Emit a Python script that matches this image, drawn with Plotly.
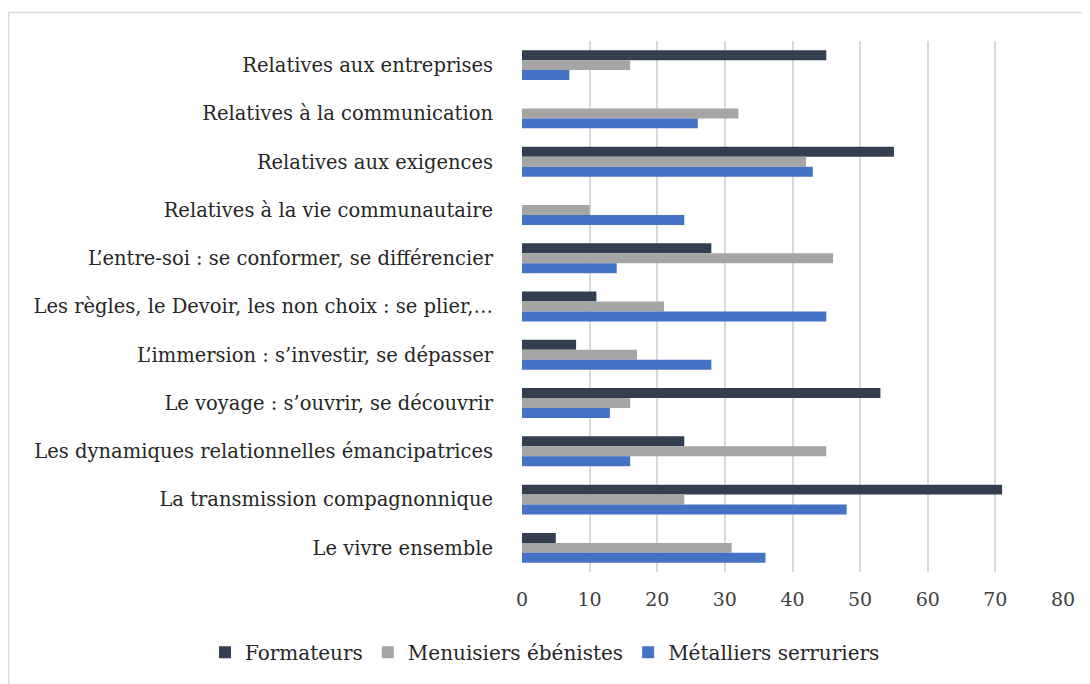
import plotly.graph_objects as go

categories = [
    "Relatives aux entreprises",
    "Relatives à la communication",
    "Relatives aux exigences",
    "Relatives à la vie communautaire",
    "L’entre-soi : se conformer, se différencier",
    "Les règles, le Devoir, les non choix : se plier,…",
    "L’immersion : s’investir, se dépasser",
    "Le voyage : s’ouvrir, se découvrir",
    "Les dynamiques relationnelles émancipatrices",
    "La transmission compagnonnique",
    "Le vivre ensemble",
]
formateurs = [45, 0, 55, 0, 28, 11, 8, 53, 24, 71, 5]
menuisiers = [16, 32, 42, 10, 46, 21, 17, 16, 45, 24, 31]
metalliers = [7, 26, 43, 24, 14, 45, 28, 13, 16, 48, 36]
x_ticks = [0, 10, 20, 30, 40, 50, 60, 70, 80]

series = [
    ("Formateurs", formateurs, "#333F50"),
    ("Menuisiers ébénistes", menuisiers, "#A5A5A5"),
    ("Métalliers serruriers", metalliers, "#4472C4"),
]

fig = go.Figure()
for name, vals, color in series:
    fig.add_trace(go.Bar(
        y=categories, x=vals, name=name, orientation="h",
        marker=dict(color=color, line=dict(width=0)),
    ))

font_family = "DejaVu Serif"
fig.update_layout(
    width=1090, height=684,
    margin=dict(l=514, r=35, t=33, b=120, autoexpand=False),
    paper_bgcolor="white", plot_bgcolor="white",
    barmode="group", bargap=0.38, bargroupgap=0,
    font=dict(family=font_family, size=19, color="#262626"),
    xaxis=dict(
        range=[0, 80], tickvals=x_ticks, showgrid=True,
        gridcolor="#D9D9D9", gridwidth=2, zeroline=False,
        showline=False, ticks="", ticklabelstandoff=14,
        tickfont=dict(size=19, color="#404040"),
        fixedrange=True,
    ),
    yaxis=dict(
        autorange="reversed", showgrid=False, zeroline=False,
        showline=False, ticks="", ticklen=0, ticklabelstandoff=28,
        tickfont=dict(size=19.5, color="#262626"),
    ),
    legend=dict(
        orientation="h", x=-0.586, xanchor="left", y=-0.151, yanchor="middle",
        font=dict(size=20, color="#262626"), traceorder="normal",
        itemwidth=30, tracegroupgap=0,
    ),
    shapes=[dict(
        type="rect", xref="paper", yref="paper",
        x0=-0.949, x1=1.2, y0=-0.4, y1=1.0537,
        line=dict(color="#D9D9D9", width=1.5), fillcolor="rgba(0,0,0,0)",
        layer="below",
    )],
)

fig.write_html("out.html")
